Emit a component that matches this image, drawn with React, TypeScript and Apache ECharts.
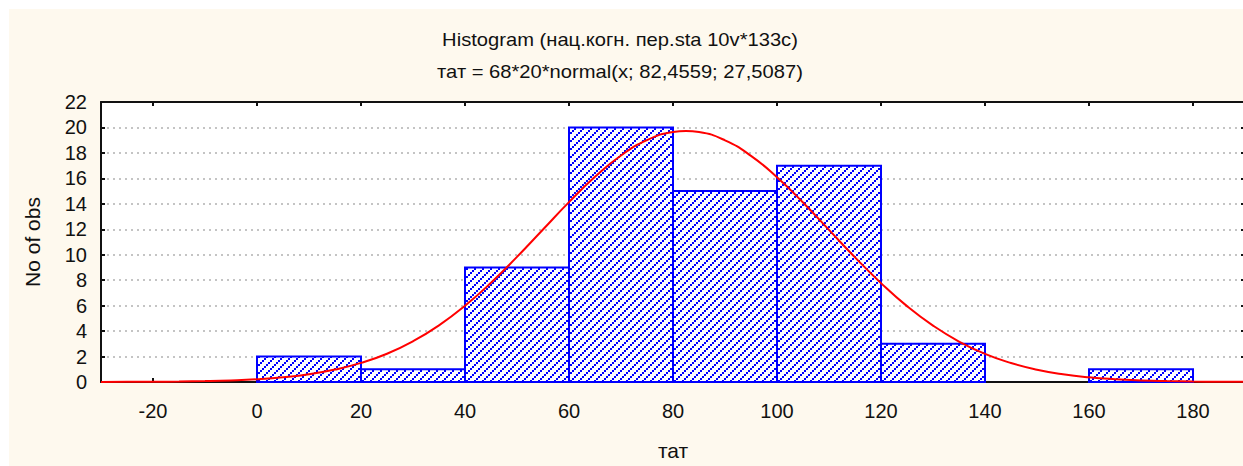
import React, { useEffect, useRef } from "react";
import * as echarts from "echarts";

const binStart = [0, 20, 40, 60, 80, 100, 120, 140, 160];
const binEnd = [20, 40, 60, 80, 100, 120, 140, 160, 180];
const counts = [2, 1, 9, 20, 15, 17, 3, 0, 1];

const curveX = [
  -30, -25, -20, -15, -10, -5, 0, 5, 10, 15, 20, 25, 30, 35, 40, 45, 50, 55, 60, 65, 70, 75, 80, 82.5, 85,
  90, 95, 100, 105, 110, 115, 120, 125, 130, 135, 140, 145, 150, 155, 160, 165, 170, 175, 180, 185, 190,
];
const curveY = [
  0.005, 0.01, 0.019, 0.037, 0.069, 0.126, 0.22, 0.374, 0.61, 0.976, 1.5, 2.22, 3.2, 4.45, 5.99, 7.8,
  9.83, 11.98, 14.13, 16.12, 17.8, 19.01, 19.64, 19.72, 19.64, 18.99, 17.77, 16.09, 14.1, 11.95, 9.79,
  7.77, 5.96, 4.43, 3.18, 2.21, 1.49, 0.97, 0.61, 0.37, 0.22, 0.125, 0.069, 0.037, 0.019, 0.0095,
];

const xTicks = [-20, 0, 20, 40, 60, 80, 100, 120, 140, 160, 180];

const titleLine1 = "Histogram (нац.когн. пер.sta 10v*133c)";
const titleLine2 = "тат = 68*20*normal(x; 82,4559; 27,5087)";
const xName = "тат";
const yName = "No of obs";

const FONT = '"Liberation Sans", Arial, sans-serif';

const tileSvg =
  "<svg xmlns='http://www.w3.org/2000/svg' width='8' height='8' shape-rendering='crispEdges'>" +
  "<rect width='8' height='8' fill='white'/>" +
  "<rect x='6' y='0' width='2' height='2' fill='#0000ff'/>" +
  "<rect x='4' y='2' width='2' height='2' fill='#0000ff'/>" +
  "<rect x='2' y='4' width='2' height='2' fill='#0000ff'/>" +
  "<rect x='0' y='6' width='2' height='2' fill='#0000ff'/>" +
  "</svg>";
const tileUrl = "data:image/svg+xml;charset=utf-8," + encodeURIComponent(tileSvg);

export default function App() {
  const ref = useRef<HTMLDivElement>(null);

  useEffect(() => {
    if (!ref.current) return;
    const chart = echarts.init(ref.current, null, { renderer: "svg" });
    const pattern: any = { image: tileUrl, repeat: "repeat", imageWidth: 8, imageHeight: 8 };

    const barData = binStart
      .map((s, i) => [s, binEnd[i], counts[i]])
      .filter((d) => d[2] > 0);
    const lineData = curveX.map((x, i) => [x, curveY[i]]);

    const axisLine = { show: true, onZero: false, lineStyle: { color: "#111", width: 2 } };
    const tick = { show: true, inside: true, length: 4, lineStyle: { color: "#111", width: 2 } };

    chart.setOption({
      animation: false,
      backgroundColor: "transparent",
      graphic: [
        {
          type: "text",
          x: 620,
          y: 40,
          scaleX: 1.12,
          style: {
            text: titleLine1,
            font: `18px ${FONT}`,
            fill: "#111",
            align: "center",
            verticalAlign: "middle",
          },
        },
        {
          type: "text",
          x: 620,
          y: 72,
          scaleX: 1.12,
          style: {
            text: titleLine2,
            font: `18px ${FONT}`,
            fill: "#111",
            align: "center",
            verticalAlign: "middle",
          },
        },
      ],
      grid: {
        left: 101,
        top: 102,
        right: -2,
        bottom: 84,
        show: true,
        backgroundColor: "#ffffff",
        borderWidth: 0,
        containLabel: false,
        outerBoundsMode: "none",
      },
      xAxis: [
        {
          type: "value",
          position: "bottom",
          min: -30,
          max: 190,
          name: xName,
          nameLocation: "middle",
          nameGap: 58,
          nameTextStyle: { fontFamily: FONT, fontSize: 21, color: "#111" },
          axisLine,
          axisTick: { ...tick, customValues: xTicks },
          axisLabel: { customValues: xTicks, margin: 19, fontFamily: FONT, fontSize: 20, color: "#111" },
          splitLine: { show: false },
        },
        {
          type: "value",
          position: "top",
          min: -30,
          max: 190,
          axisLine,
          axisTick: { ...tick, customValues: xTicks },
          axisLabel: { show: false },
          splitLine: { show: false },
        },
      ],
      yAxis: [
        {
          type: "value",
          position: "left",
          min: 0,
          max: 22,
          interval: 2,
          name: yName,
          nameLocation: "middle",
          nameGap: 58,
          nameRotate: 90,
          nameTextStyle: { fontFamily: FONT, fontSize: 21, color: "#111" },
          axisLine,
          axisTick: tick,
          axisLabel: { margin: 14, fontFamily: FONT, fontSize: 20, color: "#111" },
          splitLine: { show: true, lineStyle: { color: "#c4c4c4", width: 2, type: [2, 4] } },
        },
        {
          type: "value",
          position: "right",
          min: 0,
          max: 22,
          interval: 2,
          axisLine,
          axisTick: tick,
          axisLabel: { show: false },
          splitLine: { show: false },
        },
      ],
      series: [
        {
          type: "custom",
          xAxisIndex: 0,
          yAxisIndex: 0,
          data: barData,
          renderItem: (params: any, api: any) => {
            const x0 = api.value(0);
            const x1 = api.value(1);
            const h = api.value(2);
            const p0 = api.coord([x0, h]);
            const p1 = api.coord([x1, 0]);
            return {
              type: "rect",
              shape: { x: p0[0], y: p0[1], width: p1[0] - p0[0], height: p1[1] - p0[1] },
              style: { fill: pattern, stroke: "#0000ff", lineWidth: 2 },
            };
          },
        },
        {
          type: "line",
          xAxisIndex: 0,
          yAxisIndex: 0,
          data: lineData,
          smooth: true,
          showSymbol: false,
          symbol: "none",
          lineStyle: { color: "#ff0000", width: 2 },
          z: 5,
        },
      ],
    });

    return () => chart.dispose();
  }, []);

  return (
    <div style={{ position: "absolute", left: 0, top: 0, width: 1243, height: 466, background: "#ffffff" }}>
      <div
        style={{ position: "absolute", left: 9, top: 9, right: 0, bottom: 0, background: "#fef9ee" }}
      />
      <div ref={ref} style={{ position: "absolute", left: 0, top: 0, width: 1243, height: 466 }} />
    </div>
  );
}
